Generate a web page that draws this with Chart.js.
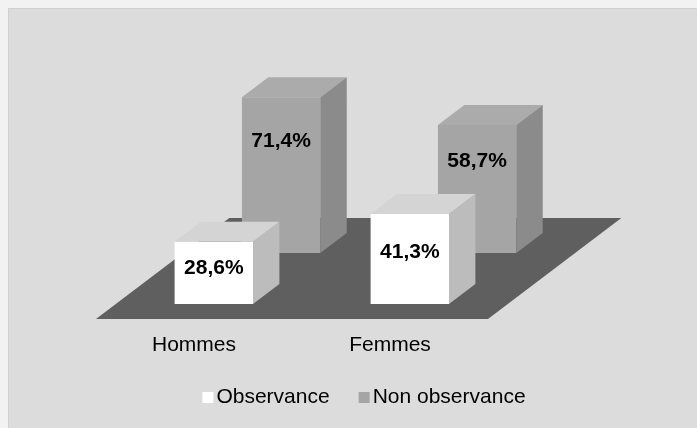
<!DOCTYPE html>
<html><head><meta charset="utf-8">
<script src="https://cdn.jsdelivr.net/npm/chart.js@4/dist/chart.umd.min.js"></script>
<style>
html,body{margin:0;padding:0;background:#f2f2f2;overflow:hidden;}
canvas{display:block;}
</style></head>
<body>
<canvas id="c" width="697" height="428"></canvas>
<script>
// ---- data ----
const categories = ['Hommes', 'Femmes'];
const seriesNames = ['Observance', 'Non observance'];
const observance = [28.6, 41.3];
const nonObservance = [71.4, 58.7];

// ---- style ----
const FONT = '"Liberation Sans", Arial, sans-serif';
const SLOPE = 1.32;          // horizontal shift per vertical px of depth
const ROW_Z = [15, 66];      // depth position of each series row
const BOX_DEPTH = 20;
const FLOOR_DEPTH = 101;
const LABEL_POS = [0.58, 0.72];
const faceColors = [
  {front: '#ffffff', top: '#d4d4d4', side: '#bcbcbc'},
  {front: '#a5a5a5', top: '#ababab', side: '#8b8b8b'}
];
const fmt = v => v.toFixed(1).replace('.', ',') + '%';

const box3d = {
  id: 'box3d',
  beforeDraw(chart) {
    const ctx = chart.ctx;
    ctx.save();
    ctx.fillStyle = '#f2f2f2';
    ctx.fillRect(0, 0, chart.width, chart.height);
    ctx.fillStyle = '#dcdcdc';
    ctx.fillRect(8, 8, chart.width, chart.height);
    ctx.strokeStyle = '#d0d0d0';
    ctx.lineWidth = 1;
    ctx.strokeRect(8.5, 8.5, chart.width, chart.height);
    ctx.restore();
  },
  beforeDatasetsDraw(chart) {
    const ctx = chart.ctx, a = chart.chartArea, y = chart.scales.y;
    const y0 = y.getPixelForValue(0);
    const dx = FLOOR_DEPTH * SLOPE;
    ctx.save();
    ctx.fillStyle = '#5f5f5f';
    ctx.beginPath();
    ctx.moveTo(a.left, y0);
    ctx.lineTo(a.right, y0);
    ctx.lineTo(a.right + dx, y0 - FLOOR_DEPTH);
    ctx.lineTo(a.left + dx, y0 - FLOOR_DEPTH);
    ctx.closePath();
    ctx.fill();
    ctx.restore();
  },
  beforeDatasetDraw(chart, args) {
    const z = ROW_Z[args.index];
    chart.ctx.save();
    chart.ctx.translate(z * SLOPE, -z);
  },
  afterDatasetDraw(chart, args) {
    const ctx = chart.ctx;
    const c = faceColors[args.index];
    const ddx = BOX_DEPTH * SLOPE, ddy = -BOX_DEPTH;
    const ds = chart.data.datasets[args.index];
    args.meta.data.forEach((bar, i) => {
      const p = bar.getProps(['x', 'y', 'base', 'width'], true);
      const l = p.x - p.width / 2, r = p.x + p.width / 2;
      ctx.fillStyle = c.top;
      ctx.beginPath();
      ctx.moveTo(l, p.y); ctx.lineTo(r, p.y);
      ctx.lineTo(r + ddx, p.y + ddy); ctx.lineTo(l + ddx, p.y + ddy);
      ctx.closePath(); ctx.fill();
      ctx.fillStyle = c.side;
      ctx.beginPath();
      ctx.moveTo(r, p.y); ctx.lineTo(r + ddx, p.y + ddy);
      ctx.lineTo(r + ddx, p.base + ddy); ctx.lineTo(r, p.base);
      ctx.closePath(); ctx.fill();
      ctx.fillStyle = '#000';
      ctx.font = 'bold 21px ' + FONT;
      ctx.textAlign = 'center';
      ctx.textBaseline = 'middle';
      const ly = p.base - (p.base - p.y) * LABEL_POS[args.index];
      ctx.fillText(fmt(ds.data[i]), p.x, ly);
    });
    ctx.restore();
  },
  afterDraw(chart) {
    const ctx = chart.ctx, x = chart.scales.x;
    ctx.save();
    ctx.fillStyle = '#000';
    ctx.font = '21px ' + FONT;
    ctx.textAlign = 'center';
    ctx.textBaseline = 'alphabetic';
    chart.data.labels.forEach((lab, i) => {
      ctx.fillText(lab, x.getPixelForValue(i), 351);
    });
    // legend
    const box = 11, gap = 3, spacing = 29;
    const items = chart.data.datasets.map(d => ({label: d.label, color: d.backgroundColor, w: ctx.measureText(d.label).width}));
    const total = items.reduce((s, it) => s + box + gap + it.w, 0) + spacing * (items.length - 1);
    let cx = 364 - total / 2;
    ctx.textAlign = 'left';
    items.forEach(it => {
      ctx.fillStyle = it.color;
      ctx.fillRect(cx, 392, box, box);
      cx += box + gap;
      ctx.fillStyle = '#000';
      ctx.fillText(it.label, cx, 403);
      cx += it.w + spacing;
    });
    ctx.restore();
  }
};

new Chart(document.getElementById('c'), {
  type: 'bar',
  data: {
    labels: categories,
    datasets: [
      {label: seriesNames[0], data: observance, backgroundColor: faceColors[0].front},
      {label: seriesNames[1], data: nonObservance, backgroundColor: faceColors[1].front}
    ].map(d => Object.assign(d, {grouped: false, categoryPercentage: 1, barPercentage: 0.4, borderWidth: 0, clip: false}))
  },
  options: {
    responsive: false,
    animation: false,
    devicePixelRatio: 1,
    layout: {padding: {left: 96, right: 209, top: 101, bottom: 109}},
    scales: {
      x: {display: false},
      y: {display: false, min: 0, max: 100}
    },
    plugins: {legend: {display: false}, tooltip: {enabled: false}}
  },
  plugins: [box3d]
});
</script>
</body></html>
